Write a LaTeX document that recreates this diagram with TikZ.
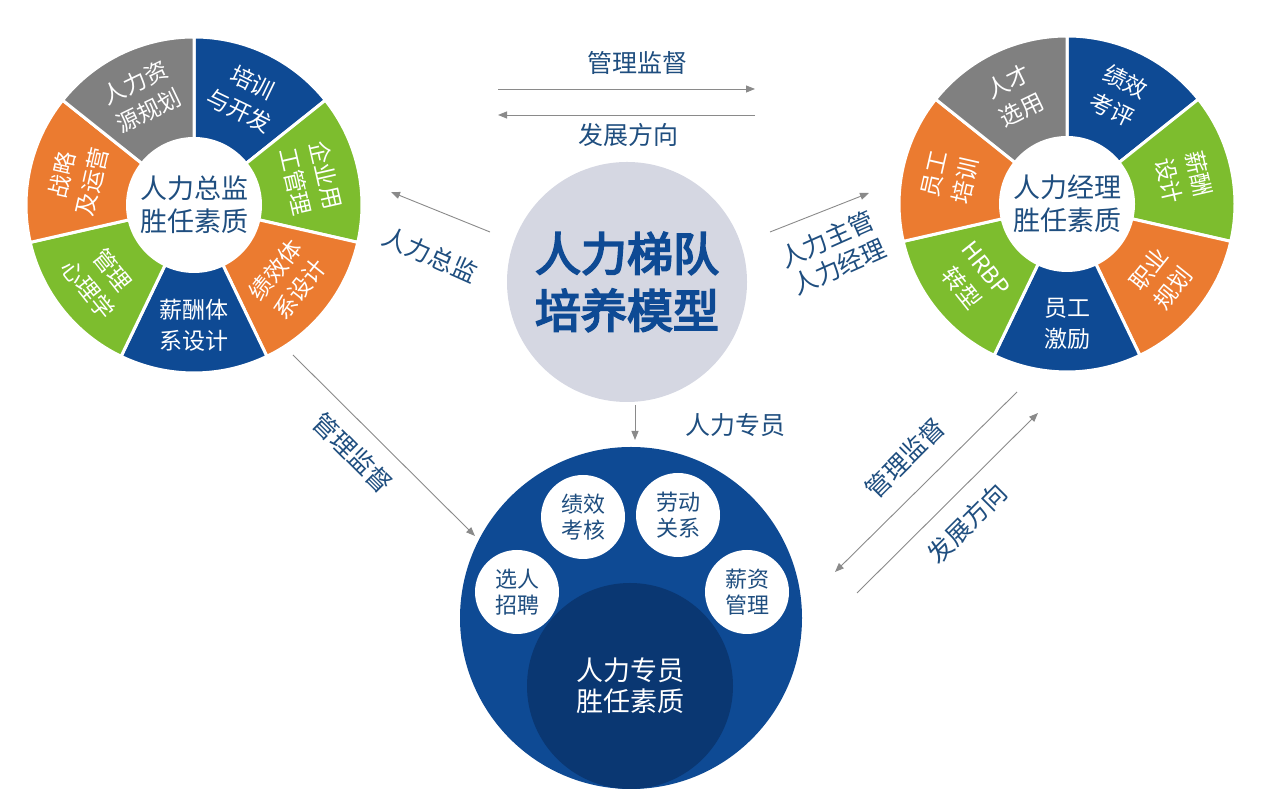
\documentclass[tikz,border=0pt]{standalone}
\usepackage{fontspec}
\setmainfont{Noto Sans CJK SC}
\newfontfamily\heavycjk{Noto Sans CJK SC}[FakeBold=4]
\usetikzlibrary{arrows.meta,calc}

\definecolor{navy}{HTML}{0E4A94}
\definecolor{leaf}{HTML}{7DBD2E}
\definecolor{amber}{HTML}{EB7B30}
\definecolor{slate}{HTML}{808080}
\definecolor{mist}{HTML}{D5D7E2}
\definecolor{deepnavy}{HTML}{0A3772}
\definecolor{ink}{HTML}{1F4E7F}
\definecolor{wire}{HTML}{8A8A8A}

\tikzset{
  flow/.style={draw=wire, line width=0.9pt, -{Triangle[length=9pt,width=7pt]}},
  tag/.style={text=ink, align=center, font=\fontsize{25}{30}\selectfont},
  seg/.style={text=white, align=center, inner sep=1pt, font=\fontsize{23}{31}\selectfont},
  hub/.style={circle, fill=white, minimum size=136pt, inner sep=0pt, align=center, text=ink, font=\fontsize{27}{33}\selectfont},
  skill/.style={circle, fill=white, minimum size=84pt, inner sep=0pt, align=center, text=ink, font=\fontsize{22}{26}\selectfont},
}

\begin{document}
\begin{tikzpicture}[x=1pt, y=1pt]
    \useasboundingbox (0,0) rectangle (1269,810);

    \coordinate (dir) at (194,605);
    \coordinate (mgr) at (1067,606);

    % left ring
    \foreach \c/\t/\r [count=\i from 0] in {navy/{培训\\与开发}/-25.7, leaf/{企业用\\工管理}/-77.1, amber/{绩效体\\系设计}/51.4, navy/{薪酬体\\系设计}/0, leaf/{管理\\心理学}/-51.4, amber/{战略\\及运营}/77.1, slate/{人力资\\源规划}/25.7} {
        \pgfmathsetmacro\a{90-\i*360/7}
        \filldraw[fill=\c, draw=white, line width=3pt] (dir) -- ++(\a:168) arc[start angle=\a, delta angle=-360/7, radius=168] -- cycle;
        \node[seg, rotate=\r] at ($(dir)+(\a-180/7:120)$) {\t};
    }
    \node[hub] (dirhub) at (dir) {人力总监\\胜任素质};

    % right ring
    \foreach \c/\t/\r [count=\i from 0] in {navy/{绩效\\考评}/-25.7, leaf/{薪酬\\设计}/-77.1, amber/{职业\\规划}/51.4, navy/{员工\\激励}/0, leaf/{HRBP\\转型}/-51.4, amber/{员工\\培训}/77.1, slate/{人才\\选用}/25.7} {
        \pgfmathsetmacro\a{90-\i*360/7}
        \filldraw[fill=\c, draw=white, line width=3pt] (mgr) -- ++(\a:168) arc[start angle=\a, delta angle=-360/7, radius=168] -- cycle;
        \node[seg, rotate=\r] at ($(mgr)+(\a-180/7:120)$) {\t};
    }
    \node[hub] (mgrhub) at (mgr) {人力经理\\胜任素质};

    % centre
    \node[circle, fill=mist, minimum size=240pt, align=center, text=navy, font=\heavycjk\fontsize{46}{57}\selectfont] (model) at (627,528) {人力梯队\\培养模型};

    % bottom
    \node[circle, fill=navy, minimum size=342pt] (staff) at (631,192) {};
    \node[circle, fill=deepnavy, minimum size=206pt, align=center, text=white, font=\fontsize{27}{31}\selectfont] (core) at (630,124) {人力专员\\胜任素质};
    \node[skill] (hire) at (517,218) {选人\\招聘};
    \node[skill] (perf) at (583,293) {绩效\\考核};
    \node[skill] (labor) at (678,295) {劳动\\关系};
    \node[skill] (pay) at (747,218) {薪资\\管理};

    % arrows
    \coordinate (tA) at (498,721); \coordinate (tB) at (755,721);
    \coordinate (tC) at (755,695); \coordinate (tD) at (498,695);
    \draw[flow] (tA) -- (tB);
    \draw[flow] (tC) -- (tD);
    \node[tag] (tAlbl) at (637,747) {管理监督};
    \node[tag] (tClbl) at (628,675) {发展方向};

    \coordinate (lA) at (490,578); \coordinate (lB) at (391,618);
    \draw[flow] (lA) -- (lB);
    \node[tag, rotate=-24] (lAlbl) at (430,555) {人力总监};

    \coordinate (rA) at (770,578); \coordinate (rB) at (869,617);
    \draw[flow] (rA) -- (rB);
    \node[tag, rotate=24] (rAlbl) at (833,557) {人力主管\\人力经理};

    \coordinate (dA) at (635,405); \coordinate (dB) at (635,370);
    \draw[flow] (dA) -- (dB);
    \node[tag] (dAlbl) at (735,385) {人力专员};

    \coordinate (sA) at (293,455); \coordinate (sB) at (475,274);
    \draw[flow] (sA) -- (sB);
    \node[tag, rotate=-45] (sAlbl) at (353,357) {管理监督};

    \coordinate (eA) at (1017,418); \coordinate (eB) at (835,238);
    \coordinate (eC) at (857,217); \coordinate (eD) at (1038,397);
    \draw[flow] (eA) -- (eB);
    \draw[flow] (eC) -- (eD);
    \node[tag, rotate=45] (eAlbl) at (905,352) {管理监督};
    \node[tag, rotate=45] (eClbl) at (967,287) {发展方向};

\end{tikzpicture}
\end{document}
